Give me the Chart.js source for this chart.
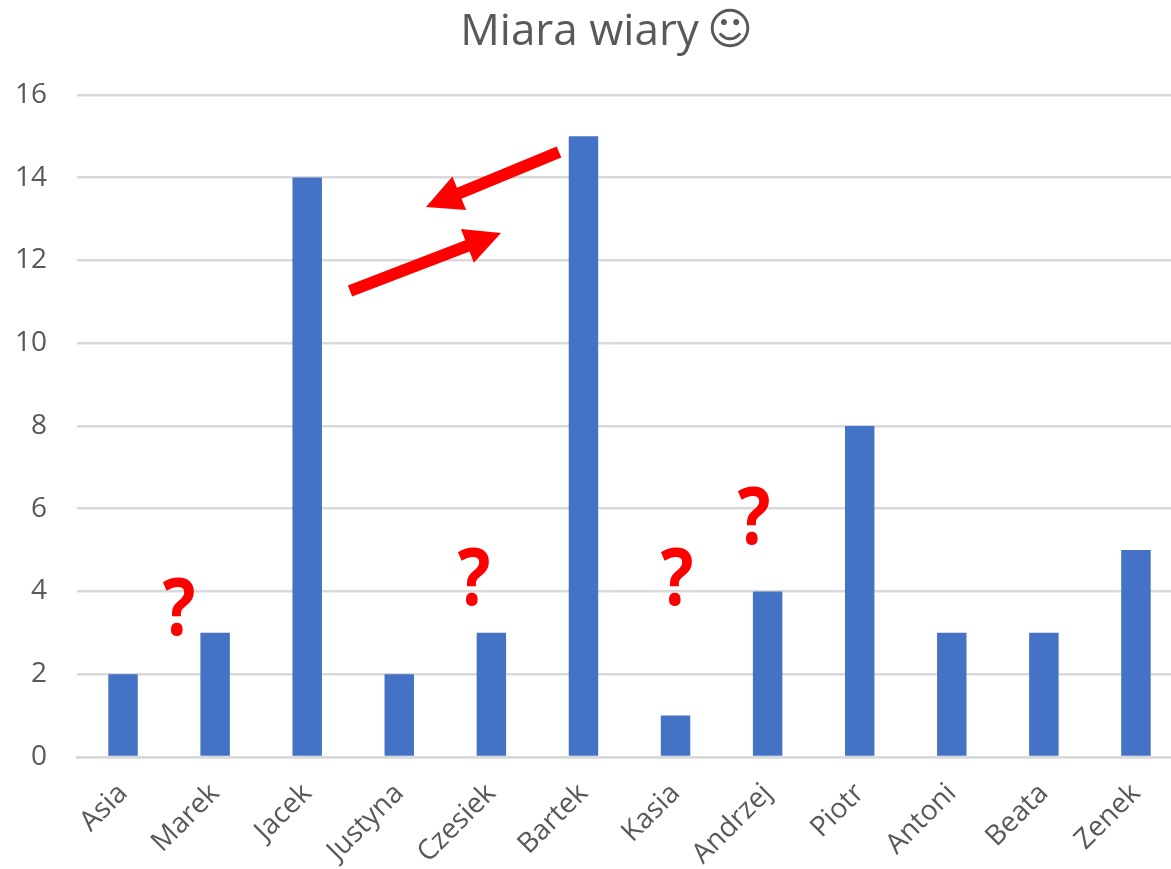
<!DOCTYPE html>
<html><head><meta charset="utf-8">
<style>html,body{margin:0;padding:0;background:#fff;overflow:hidden}#w{position:relative;width:1171px;height:869px;overflow:hidden}</style>
<script src="https://cdn.jsdelivr.net/npm/chart.js@4"></script></head>
<body><div id="w"><canvas id="c" width="1182" height="869"></canvas></div>
<script>
const categories=["Asia","Marek","Jacek","Justyna","Czesiek","Bartek","Kasia","Andrzej","Piotr","Antoni","Beata","Zenek"];
const values=[2,3,14,2,3,15,1,4,8,3,3,5];
const yTicks=[0,2,4,6,8,10,12,14,16];
const titleText="Miara wiary\u00a0\u00a0";
const smiley="☺";
const font='"Open Sans"';
const overlay={id:'overlay',afterDraw(ch){
  const c=ch.ctx;
  function arrow(x1,y1,x2,y2){
    const a=Math.atan2(y2-y1,x2-x1),L=Math.hypot(x2-x1,y2-y1);
    c.save();c.translate(x1,y1);c.rotate(a);c.fillStyle='#ff0000';c.beginPath();
    c.moveTo(0,-6);c.lineTo(L-36,-6);c.lineTo(L-36,-18);c.lineTo(L,0);c.lineTo(L-36,18);c.lineTo(L-36,6);c.lineTo(0,6);c.closePath();c.fill();c.restore();
  }
  arrow(350,291,501,233);
  arrow(559,152,426,207);
  c.save();c.fillStyle='#ff0000';c.font='bold 78px "Open Sans"';c.textAlign='center';c.textBaseline='alphabetic';
  [[179,635],[474,605],[677,605],[754,544]].forEach(p=>{c.save();c.translate(p[0],p[1]);c.scale(0.88,1);c.fillText('?',0,0);c.restore();});
  c.fillStyle='#595959';c.font='44px "DejaVu Sans"';c.fillText(smiley,730,43.5);
  c.restore();
}};
new Chart(document.getElementById('c'),{type:'bar',
 data:{labels:categories,datasets:[{data:values,backgroundColor:'#4472c4',categoryPercentage:1,barPercentage:0.32}]},
 plugins:[overlay],
 options:{responsive:false,animation:false,
  layout:{padding:{left:0,right:0,top:0,bottom:0}},
  plugins:{legend:{display:false},tooltip:{enabled:false},
   title:{display:true,text:titleText,color:'#595959',font:{family:font,size:44,weight:'normal'},padding:{top:6,bottom:36}}},
  scales:{
   x:{grid:{display:false},border:{color:'#d9d9d9',width:2.5},afterFit(a){a.height=112},
      ticks:{color:'#595959',font:{family:font,size:28},maxRotation:45,minRotation:45,padding:12}},
   y:{min:0,max:16,afterBuildTicks(a){a.ticks=yTicks.map(v=>({value:v}))},afterFit(a){a.width=77},
      grid:{color:'#d9d9d9',lineWidth:2.5,drawTicks:false},border:{display:false},
      ticks:{color:'#595959',font:{family:font,size:28},padding:30}}
  }}});
</script></body></html>
